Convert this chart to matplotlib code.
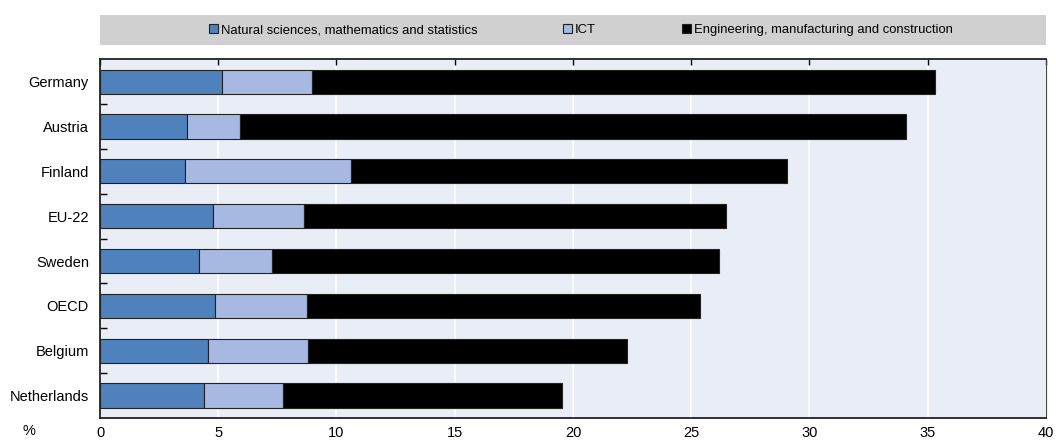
import matplotlib
matplotlib.use("Agg")
import matplotlib.pyplot as plt
import numpy as np
from matplotlib.patches import Rectangle

plt.rcParams["font.family"] = ["Liberation Sans Narrow", "Liberation Sans", "DejaVu Sans"]

countries = ["Germany", "Austria", "Finland", "EU-22", "Sweden", "OECD", "Belgium", "Netherlands"]
natural = [5.14, 3.66, 3.61, 4.79, 4.20, 4.88, 4.55, 4.40]
ict = [3.81, 2.26, 7.00, 3.82, 3.07, 3.86, 4.26, 3.34]
engineering = [26.35, 28.18, 18.44, 17.84, 18.89, 16.63, 13.49, 11.81]
series_names = [
    "Natural sciences, mathematics and statistics",
    "ICT",
    "Engineering, manufacturing and construction",
]
colors = ["#4f81bd", "#a7b8e2", "#000000"]

fig = plt.figure(figsize=(10.56, 4.45), dpi=100)
ax = fig.add_axes([0.0947, 0.0607, 0.8958, 0.8063])
ax.set_facecolor("#e9edf6")

y = np.arange(len(countries))
left = np.zeros(len(countries))
handles = []
for vals, name, col in zip([natural, ict, engineering], series_names, colors):
    b = ax.barh(y, vals, left=left, height=0.54, color=col,
                edgecolor="#222222", linewidth=0.8, label=name, zorder=3)
    handles.append(b)
    left = left + np.array(vals)

ax.set_ylim(len(countries) - 0.5, -0.5)
ax.set_xlim(0, 40)
ax.set_yticks(y)
ax.set_yticklabels(countries, fontsize=10.5)
ax.set_yticks(np.arange(0.5, len(countries) - 0.5, 1), minor=True)
ax.tick_params(axis="y", which="major", length=0, pad=8)
ax.tick_params(axis="y", which="minor", direction="in", length=5, width=1, color="black")

ax.set_xticks(np.arange(0, 41, 5))
ax.tick_params(axis="x", which="major", labelsize=10.5, pad=6,
               top=True, bottom=False, direction="in", length=4, width=1)
ax.grid(axis="x", color="white", linewidth=1.2, zorder=0)
ax.set_axisbelow(True)

for side in ["left", "bottom", "top"]:
    ax.spines[side].set_color("#222222")
    ax.spines[side].set_linewidth(1.3)
ax.spines["right"].set_color("#444444")
ax.spines["right"].set_linewidth(0.8)

fig.text(0.021, 0.022, "%", fontsize=10.5)

fig.patches.append(Rectangle((0.0947, 0.899), 0.8958, 0.067, transform=fig.transFigure,
                             facecolor="#d0d0d0", edgecolor="none", zorder=0))
fig.legend(handles=handles, loc="center", bbox_to_anchor=(0.55, 0.9325), ncol=3,
           frameon=False, fontsize=9.4, handlelength=0.7, handleheight=0.7,
           handletextpad=0.2, columnspacing=6.6)

fig.savefig("out.png", dpi=100)
